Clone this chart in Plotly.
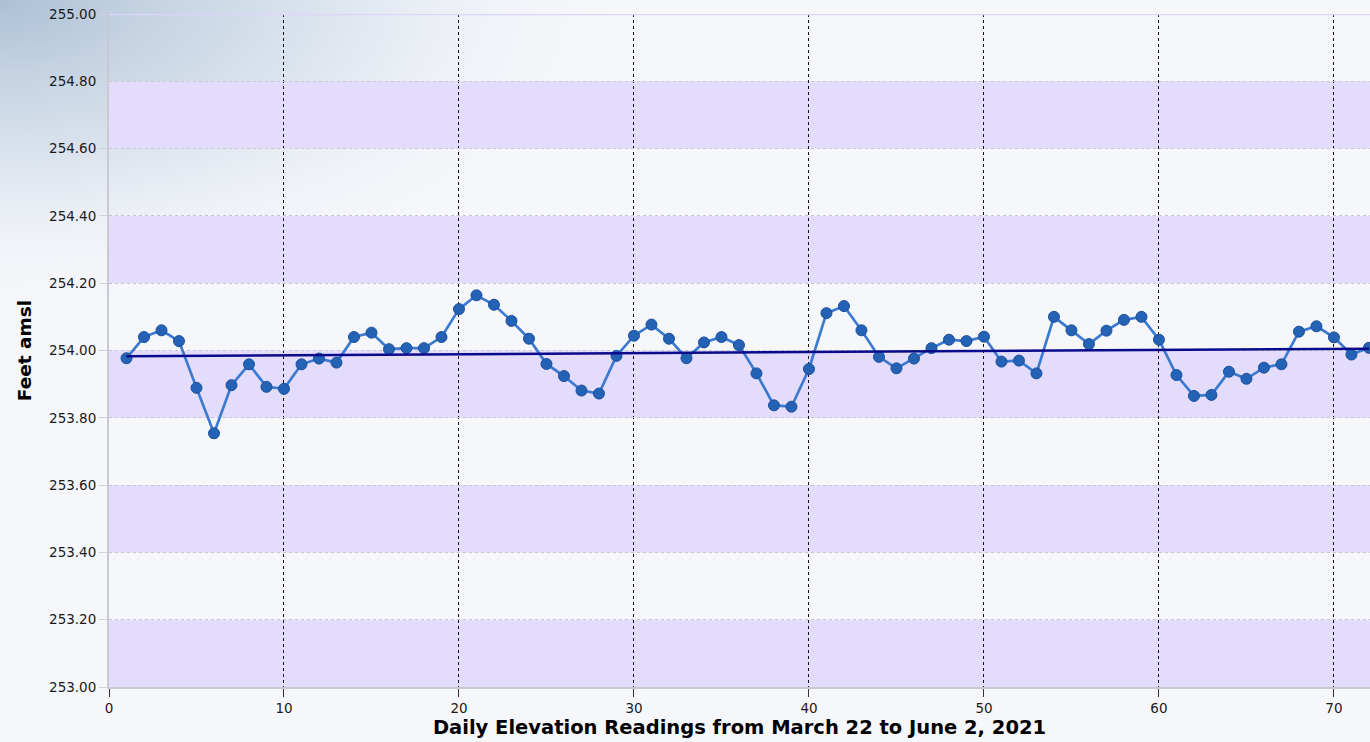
import numpy as np
import plotly.graph_objects as go

# ---- data ----
days = list(range(1, 73))
elevation = [
    253.977, 254.040, 254.060, 254.028, 253.889, 253.754, 253.897, 253.959, 253.892, 253.886,
    253.959, 253.976, 253.964, 254.040, 254.053, 254.004, 254.007, 254.007, 254.040, 254.123,
    254.164, 254.136, 254.088, 254.035, 253.960, 253.924, 253.881, 253.872, 253.984, 254.044,
    254.077, 254.035, 253.977, 254.024, 254.040, 254.016, 253.932, 253.837, 253.833, 253.945,
    254.111, 254.132, 254.060, 253.981, 253.947, 253.976, 254.007, 254.032, 254.028, 254.041,
    253.967, 253.970, 253.932, 254.100, 254.060, 254.019, 254.059, 254.091, 254.100, 254.032,
    253.927, 253.865, 253.868, 253.937, 253.916, 253.949, 253.959, 254.056, 254.072, 254.039,
    253.988, 254.008,
]
x_ticks = [0, 10, 20, 30, 40, 50, 60, 70]
y_ticks = [253.0, 253.2, 253.4, 253.6, 253.8, 254.0, 254.2, 254.4, 254.6, 254.8, 255.0]
band_edges = [(253.0, 253.2), (253.4, 253.6), (253.8, 254.0), (254.2, 254.4), (254.6, 254.8)]
x_range = [0, 72.06]

x_title = "Daily Elevation Readings from March 22 to June 2, 2021"
y_title = "Feet amsl"

# linear trend line through the readings
coef = np.polyfit(days, elevation, 1)
trend = np.polyval(coef, days)

W, H = 1370, 742
L, R, T, B = 109, 0, 14, 55

fig = go.Figure()

# decorative background gradient in the top-left corner (full-page subplot)
th = np.linspace(0, 2 * np.pi, 121)
gx = 640 * np.cos(th)
gy = H + 320 * np.sin(th)
fig.add_trace(go.Scatter(
    x=gx, y=gy, mode="lines", fill="toself", line=dict(width=0),
    fillgradient=dict(type="radial",
                      colorscale=[[0, "rgba(172,192,214,1)"],
                                  [0.5, "rgba(208,219,232,0.7)"],
                                  [1, "rgba(246,247,251,0)"]]),
    hoverinfo="skip", showlegend=False, xaxis="x", yaxis="y",
))

# daily readings
fig.add_trace(go.Scatter(
    x=days, y=elevation, mode="lines+markers",
    line=dict(color="#3B7AD0", width=2.7),
    marker=dict(size=11, color="#2462B6", line=dict(color="#1B4F9C", width=1)),
    showlegend=False, xaxis="x2", yaxis="y2",
))

# trend line
fig.add_trace(go.Scatter(
    x=days, y=trend, mode="lines",
    line=dict(color="#0A0A8C", width=2.5),
    showlegend=False, xaxis="x2", yaxis="y2",
))

shapes = []
for lo, hi in band_edges:
    shapes.append(dict(type="rect", xref="x2", yref="y2", x0=x_range[0], x1=x_range[1], y0=lo, y1=hi,
                       fillcolor="#E3DCFD", line=dict(width=0), layer="below"))
shapes.append(dict(type="line", xref="x2", yref="y2", x0=x_range[0], x1=x_range[1],
                   y0=y_ticks[-1], y1=y_ticks[-1],
                   line=dict(color="#DDD4FB", width=2.5), layer="above"))

tick_font = dict(family="DejaVu Sans", size=13.5, color="#1A1A1A")
x_title_font = dict(family="DejaVu Sans", size=19.5, color="#000000", weight="bold")
y_title_font = dict(family="DejaVu Sans", size=18.5, color="#000000", weight="bold")

fig.update_layout(
    width=W, height=H,
    margin=dict(l=0, r=0, t=0, b=0, pad=0, autoexpand=False),
    paper_bgcolor="#F6F7FB",
    plot_bgcolor="rgba(0,0,0,0)",
    shapes=shapes,
    xaxis=dict(domain=[0, 1], range=[0, W], visible=False, fixedrange=True, automargin=False),
    yaxis=dict(domain=[0, 1], range=[0, H], visible=False, fixedrange=True, automargin=False),
    xaxis2=dict(
        domain=[L / W, 1 - R / W], anchor="y2", range=x_range,
        tickvals=x_ticks, ticktext=[str(v) for v in x_ticks],
        showgrid=True, gridcolor="#111111", griddash="dot", gridwidth=1,
        showline=True, linecolor="#C8C9D2", linewidth=2,
        ticks="outside", ticklen=8, tickcolor="#333333", tickwidth=1,
        tickfont=tick_font, zeroline=False, automargin=False,
        title=dict(text=x_title, font=x_title_font, standoff=4),
    ),
    yaxis2=dict(
        domain=[B / H, 1 - T / H], anchor="x2", range=[253.0, 255.0],
        tickvals=y_ticks, tickformat=".2f",
        showgrid=True, gridcolor="#C6C6CC", griddash="dot", gridwidth=1,
        showline=True, linecolor="#C8C9D2", linewidth=2,
        ticks="outside", ticklen=8, tickcolor="#D2D2D8", tickwidth=1,
        tickfont=tick_font, zeroline=False, automargin=False,
        title=dict(text=y_title, font=y_title_font, standoff=13),
    ),
)

fig.write_html(
    "out.html",
    config={"displayModeBar": False},
    post_script="document.body.style.margin='0';document.body.style.overflow='hidden';",
)
